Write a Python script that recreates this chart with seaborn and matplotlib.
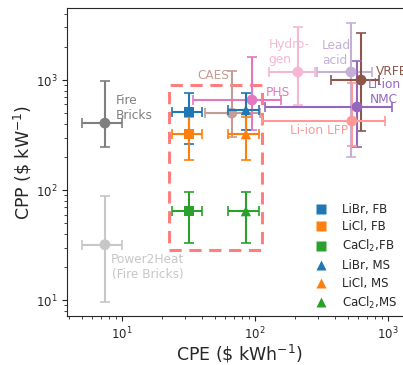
import numpy as np
import pandas as pd
import matplotlib
matplotlib.use("Agg")
import matplotlib.pyplot as plt
from matplotlib.lines import Line2D
from matplotlib.patches import Rectangle
import seaborn as sns

sns.set_style("ticks")
plt.rcParams['font.family'] = ['DejaVu Sans']

# ---- reference technologies ----
tech_names = ["Fire Bricks", "Power2Heat", "CAES", "PHS", "Hydrogen",
              "Lead acid", "VRFB", "Li-ion NMC", "Li-ion LFP"]
tech_cpe = [7.45, 7.45, 67, 95, 210, 527, 627, 585, 535]
tech_cpe_lo = [5.0, 5.0, 42, 34, 127, 292, 372, 119, 113]
tech_cpe_hi = [10, 10, 110, 157, 283, 759, 855, 1072, 948]
tech_cpp = [406, 32, 501, 658, 1182, 1182, 1000, 569, 424]
tech_cpp_lo = [246, 9.6, 303, 351, 593, 200, 343, 246, 250]
tech_cpp_hi = [980, 88, 1207, 1618, 3034, 3300, 2672, 1488, 940]
tech_colors = ["#7f7f7f", "#c7c7c7", "#c49c94", "#e377c2", "#f7b6d2",
               "#c5b0d5", "#8c564b", "#9467bd", "#ff9896"]

# ---- sorption systems ----
sys_labels = ["LiBr, FB", "LiCl, FB", "CaCl$_2$,FB",
              "LiBr, MS", "LiCl, MS", "CaCl$_2$,MS"]
sys_cpe = [32, 32, 32, 85.5, 85.5, 85.5]
sys_cpe_lo = [24, 24, 24, 63, 63, 63]
sys_cpe_hi = [40, 40, 40, 107, 107, 107]
sys_cpp = [512, 323, 64.5, 533, 323, 64.5]
sys_cpp_lo = [262, 187, 33, 350, 187, 33]
sys_cpp_hi = [763, 465, 96, 763, 465, 96]
sys_colors = ["#1f77b4", "#ff7f0e", "#2ca02c", "#1f77b4", "#ff7f0e", "#2ca02c"]
sys_markers = ["s", "s", "s", "^", "^", "^"]

fig = plt.figure(figsize=(4.03, 3.65), dpi=100)
ax = fig.add_axes([0.166, 0.134, 0.854, 0.844])
ax.set_xscale("log")
ax.set_yscale("log")

tech_df = pd.DataFrame({"name": tech_names, "cpe": tech_cpe, "cpp": tech_cpp})
for i in range(len(tech_names)):
    ax.errorbar(tech_cpe[i], tech_cpp[i],
                xerr=[[tech_cpe[i] - tech_cpe_lo[i]], [tech_cpe_hi[i] - tech_cpe[i]]],
                yerr=[[tech_cpp[i] - tech_cpp_lo[i]], [tech_cpp_hi[i] - tech_cpp[i]]],
                fmt="none", ecolor=tech_colors[i], elinewidth=1.5, capsize=3.5,
                capthick=1.2, zorder=2)
sns.scatterplot(data=tech_df, x="cpe", y="cpp", hue="name",
                palette=dict(zip(tech_names, tech_colors)), s=60,
                edgecolor="none", legend=False, ax=ax, zorder=3)

sys_df = pd.DataFrame({"label": sys_labels, "cpe": sys_cpe, "cpp": sys_cpp})
for i in range(len(sys_labels)):
    ax.errorbar(sys_cpe[i], sys_cpp[i],
                xerr=[[sys_cpe[i] - sys_cpe_lo[i]], [sys_cpe_hi[i] - sys_cpe[i]]],
                yerr=[[sys_cpp[i] - sys_cpp_lo[i]], [sys_cpp_hi[i] - sys_cpp[i]]],
                fmt="none", ecolor=sys_colors[i], elinewidth=1.5, capsize=3.5,
                capthick=1.2, zorder=4)
sns.scatterplot(data=sys_df, x="cpe", y="cpp", hue="label", style="label",
                palette=dict(zip(sys_labels, sys_colors)),
                markers=dict(zip(sys_labels, sys_markers)), s=55,
                edgecolor="none", legend=False, ax=ax, zorder=5)

# dashed box around sorption systems
ax.add_patch(Rectangle((22.5, 28.5), 113 - 22.5, 900 - 28.5, fill=False,
                       edgecolor="#ff7f7f", linestyle=(0, (4, 2.5)), lw=2.2,
                       zorder=1))

# annotations
fs = 8.7
ax.text(9.0, 557, "Fire\nBricks", color="#7f7f7f", fontsize=fs, va="center", ha="left")
ax.text(8.3, 20, "Power2Heat\n(Fire Bricks)", color="#c7c7c7", fontsize=fs,
        va="center", ha="left", multialignment="center")
ax.text(37, 1090, "CAES", color="#c49c94", fontsize=fs, va="center", ha="left")
ax.text(127, 1800, "Hydro-\ngen", color="#f7b6d2", fontsize=fs, va="center", ha="left")
ax.text(319, 1742, "Lead\nacid", color="#c5b0d5", fontsize=fs, va="center",
        ha="left", multialignment="left")
ax.text(813, 1207, "VRFB", color="#8c564b", fontsize=fs, va="center", ha="left")
ax.text(933, 778, "Li-ion\nNMC", color="#9467bd", fontsize=fs, va="center",
        ha="center", multialignment="center")
ax.text(121, 763, "PHS", color="#e377c2", fontsize=fs, va="center", ha="left")
ax.text(183, 351, "Li-ion LFP", color="#ff9896", fontsize=fs, va="center", ha="left")

ax.set_xlim(3.86, 1490)
ax.set_ylim(7.2, 4500)
ax.set_xlabel("CPE (\\$ kWh$^{-1}$)", fontsize=12.5, labelpad=0)
ax.set_ylabel("CPP (\\$ kW$^{-1}$)", fontsize=12.5, labelpad=1)
ax.tick_params(labelsize=8.5)

handles = [Line2D([0], [0], marker=m, color="none", markerfacecolor=c,
                  markeredgecolor="none", markersize=7, linestyle="none")
           for m, c in zip(sys_markers, sys_colors)]
ax.legend(handles, sys_labels, loc="center left", frameon=False, fontsize=8.5,
          bbox_to_anchor=(0.74, 0.297), bbox_transform=fig.transFigure,
          handletextpad=0.8, labelspacing=0.4)

fig.savefig("out.png", dpi=100)
